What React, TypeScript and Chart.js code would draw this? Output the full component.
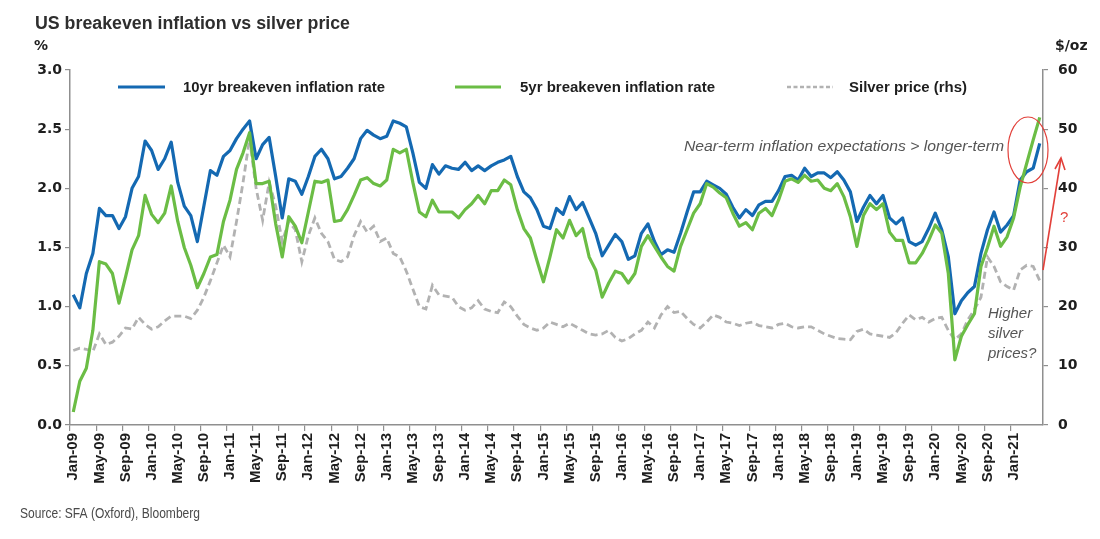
import React, { useEffect, useRef } from "react";
import { Chart, registerables } from "chart.js";

Chart.register(...registerables);

// ---------- data ----------
const MONTH_NAMES = ["Jan", "Feb", "Mar", "Apr", "May", "Jun", "Jul", "Aug", "Sep", "Oct", "Nov", "Dec"];
const START_YEAR = 2009;
const MONTH_COUNT = 149; // Jan-09 .. May-21
const categories: string[] = Array.from({ length: MONTH_COUNT }, (_, i) => {
  const y = (START_YEAR + Math.floor(i / 12)) % 100;
  return `${MONTH_NAMES[i % 12]}-${String(y).padStart(2, "0")}`;
});
const LAST_TICK_LABEL = "Jan-21";

const breakeven10y = [
  1.10, 0.99, 1.28, 1.45, 1.83, 1.77, 1.77, 1.66, 1.76, 2.00,
  2.10, 2.40, 2.32, 2.16, 2.25, 2.39, 2.05, 1.85, 1.77, 1.55,
  1.85, 2.15, 2.11, 2.27, 2.32, 2.42, 2.50, 2.57, 2.25, 2.37,
  2.43, 2.10, 1.75, 2.08, 2.06, 1.95, 2.10, 2.27, 2.33, 2.25,
  2.08, 2.10, 2.17, 2.25, 2.42, 2.49, 2.45, 2.42, 2.44, 2.57,
  2.55, 2.52, 2.30, 2.05, 2.00, 2.20, 2.12, 2.19, 2.17, 2.16,
  2.22, 2.15, 2.19, 2.15, 2.19, 2.22, 2.24, 2.27, 2.10, 1.97,
  1.92, 1.82, 1.68, 1.66, 1.83, 1.78, 1.93, 1.82, 1.88, 1.75,
  1.62, 1.43, 1.52, 1.61, 1.55, 1.40, 1.43, 1.62, 1.70, 1.55,
  1.44, 1.48, 1.46, 1.62, 1.80, 1.97, 1.97, 2.06, 2.03, 2.00,
  1.95, 1.84, 1.75, 1.82, 1.77, 1.86, 1.89, 1.89, 1.98, 2.10,
  2.11, 2.07, 2.17, 2.10, 2.13, 2.13, 2.09, 2.14, 2.07, 1.97,
  1.72, 1.84, 1.94, 1.87, 1.94, 1.75, 1.70, 1.75, 1.55, 1.52,
  1.55, 1.66, 1.79, 1.65, 1.42, 0.94, 1.05, 1.12, 1.17, 1.45,
  1.65, 1.80, 1.63, 1.69, 1.77, 2.07, 2.14, 2.17, 2.38,
];

const breakeven5y = [
  0.11, 0.37, 0.48, 0.80, 1.38, 1.36, 1.28, 1.03, 1.25, 1.48,
  1.60, 1.94, 1.78, 1.71, 1.79, 2.02, 1.72, 1.50, 1.35, 1.16,
  1.28, 1.42, 1.44, 1.72, 1.90, 2.16, 2.30, 2.47, 2.04, 2.04,
  2.06, 1.70, 1.42, 1.76, 1.68, 1.54, 1.80, 2.06, 2.05, 2.07,
  1.72, 1.73, 1.82, 1.94, 2.07, 2.09, 2.04, 2.02, 2.07, 2.33,
  2.30, 2.33, 2.05, 1.80, 1.76, 1.90, 1.80, 1.80, 1.80, 1.75,
  1.82, 1.87, 1.94, 1.87, 1.98, 1.98, 2.07, 2.03, 1.82, 1.66,
  1.58, 1.39, 1.21, 1.42, 1.65, 1.58, 1.73, 1.60, 1.66, 1.42,
  1.31, 1.08, 1.20, 1.30, 1.28, 1.20, 1.28, 1.51, 1.60, 1.51,
  1.42, 1.34, 1.30, 1.51, 1.65, 1.79, 1.87, 2.04, 2.01, 1.96,
  1.92, 1.79, 1.68, 1.71, 1.65, 1.79, 1.83, 1.77, 1.90, 2.06,
  2.08, 2.05, 2.11, 2.06, 2.07, 2.00, 1.98, 2.04, 1.93, 1.76,
  1.51, 1.77, 1.87, 1.82, 1.87, 1.63, 1.56, 1.56, 1.37, 1.37,
  1.45, 1.56, 1.69, 1.62, 1.28, 0.55, 0.75, 0.85, 0.94, 1.34,
  1.50, 1.68, 1.51, 1.59, 1.75, 2.01, 2.21, 2.41, 2.60,
];

const silverPrice = [
  12.6, 13.0, 12.8, 12.4, 15.4, 13.6, 14.0, 15.0, 16.4, 16.2,
  18.2, 17.0, 16.2, 16.6, 17.6, 18.4, 18.4, 18.4, 18.0, 19.4,
  21.6, 24.4, 27.4, 30.4, 28.4, 34.4, 41.0, 48.4, 40.0, 34.6,
  41.0, 37.0, 31.0, 34.4, 33.0, 27.6, 32.0, 35.0, 32.4, 31.0,
  28.0, 27.6, 28.4, 32.0, 34.4, 32.6, 33.6, 31.0, 31.6, 29.0,
  28.4, 26.0, 23.0, 20.0, 19.6, 23.6, 22.0, 21.8, 21.6, 20.0,
  19.4, 19.8, 21.0, 19.6, 19.2, 19.0, 20.8, 20.0, 18.4, 17.0,
  16.4, 16.0, 16.4, 17.4, 17.0, 16.6, 17.2, 16.6, 16.0, 15.4,
  15.2, 15.4, 16.0, 14.8, 14.2, 14.6, 15.4, 16.0, 17.4, 16.4,
  18.6, 20.0, 19.0, 19.2, 18.0, 17.0, 16.4, 17.4, 18.6, 18.2,
  17.4, 17.2, 16.8, 17.2, 17.4, 16.8, 16.6, 16.4, 17.0, 17.2,
  16.6, 16.4, 16.6, 16.6, 16.0, 15.4, 15.0, 14.6, 14.5, 14.4,
  15.8, 16.2, 15.4, 15.2, 15.0, 14.8, 15.6, 17.2, 18.6, 17.8,
  18.2, 17.4, 18.0, 18.2, 16.0, 14.4, 15.4, 17.8, 19.5, 21.6,
  28.4, 26.8, 24.2, 23.4, 22.8, 26.2, 27.0, 26.8, 24.4,
];

const LABEL_EVERY = 4; // Jan, May, Sep
const LEFT_AXIS = { min: 0, max: 3, step: 0.5 };
const RIGHT_AXIS = { min: 0, max: 60, step: 10 };

const SERIES_NAMES = ["10yr breakeven inflation rate", "5yr breakeven inflation rate", "Silver price (rhs)"];
const TITLE = "US breakeven inflation vs silver price";
const SOURCE = "Source: SFA (Oxford), Bloomberg";
const NOTE_TOP = "Near-term inflation expectations > longer-term";
const NOTE_SILVER = ["Higher", "silver", "prices?"];

// ---------- styles ----------
const BLUE = "#1469b2";
const GREEN = "#6bbd45";
const GREY = "#b2b2b2";
const AXIS = "#8f8f8f";
const TEXT = "#1e1e1e";
const NOTE = "#555555";
const RED = "#e2403a";

const lastLabelIndex = categories.indexOf(LAST_TICK_LABEL);
const showLabel = (i: number) => i % LABEL_EVERY === 0 && i <= lastLabelIndex;

function fitText(ctx: CanvasRenderingContext2D, text: string, x: number, y: number, width: number) {
  const w = ctx.measureText(text).width;
  const s = width / w;
  ctx.save();
  ctx.translate(x, y);
  ctx.scale(s, 1);
  ctx.fillText(text, 0, 0);
  ctx.restore();
}

const overlayPlugin = {
  id: "overlay",
  afterDraw(chart: any) {
    const ctx: CanvasRenderingContext2D = chart.ctx;
    ctx.save();
    ctx.textBaseline = "alphabetic";
    ctx.textAlign = "left";

    // title
    ctx.fillStyle = "#2e2e2e";
    ctx.font = "bold 18px 'Liberation Sans', Arial, sans-serif";
    fitText(ctx, TITLE, 35, 29, 315);

    // axis units
    ctx.fillStyle = TEXT;
    ctx.font = "bold 14px 'DejaVu Sans', sans-serif";
    ctx.fillText("%", 34, 50);
    ctx.fillText("$/oz", 1055, 50);

    // legend
    const legendY = 87;
    const items = [
      { x0: 118, x1: 165, tx: 183, tw: 202, color: BLUE, dash: [] as number[], lw: 3 },
      { x0: 455, x1: 501, tx: 520, tw: 195, color: GREEN, dash: [] as number[], lw: 3 },
      { x0: 787, x1: 833, tx: 849, tw: 118, color: GREY, dash: [4, 2.5], lw: 2.5 },
    ];
    items.forEach((it, i) => {
      ctx.save();
      ctx.strokeStyle = it.color;
      ctx.lineWidth = it.lw;
      ctx.setLineDash(it.dash);
      ctx.beginPath();
      ctx.moveTo(it.x0, legendY);
      ctx.lineTo(it.x1, legendY);
      ctx.stroke();
      ctx.restore();
      ctx.fillStyle = TEXT;
      ctx.font = "bold 15px 'Liberation Sans', Arial, sans-serif";
      fitText(ctx, SERIES_NAMES[i], it.tx, legendY + 5, it.tw);
    });

    // annotations
    ctx.fillStyle = NOTE;
    ctx.font = "italic 15px 'Liberation Sans', Arial, sans-serif";
    fitText(ctx, NOTE_TOP, 684, 151, 320);
    NOTE_SILVER.forEach((t, i) => ctx.fillText(t, 988, 318 + i * 20));

    // red ellipse
    ctx.strokeStyle = RED;
    ctx.lineWidth = 1.2;
    ctx.beginPath();
    ctx.ellipse(1028, 150, 20, 33, 0, 0, Math.PI * 2);
    ctx.stroke();

    // red arrow
    ctx.lineWidth = 1.6;
    ctx.beginPath();
    ctx.moveTo(1043, 270);
    ctx.lineTo(1061, 158);
    ctx.stroke();
    ctx.beginPath();
    ctx.moveTo(1055, 169);
    ctx.lineTo(1061, 158);
    ctx.lineTo(1065, 170);
    ctx.stroke();
    ctx.fillStyle = RED;
    ctx.font = "15px 'Liberation Sans', Arial, sans-serif";
    ctx.fillText("?", 1060, 222);

    // source
    ctx.fillStyle = "#4a4a4a";
    ctx.font = "14px 'Liberation Sans', Arial, sans-serif";
    fitText(ctx, SOURCE, 20, 518, 180);

    ctx.restore();
  },
};

export default function App() {
  const canvasRef = useRef<HTMLCanvasElement | null>(null);

  useEffect(() => {
    if (!canvasRef.current) return;
    const tickFont = { family: "'DejaVu Sans', sans-serif", size: 14, weight: "bold" as const };
    const chart = new Chart(canvasRef.current, {
      type: "line",
      data: {
        labels: categories,
        datasets: [
          {
            label: SERIES_NAMES[0],
            data: breakeven10y,
            yAxisID: "y",
            borderColor: BLUE,
            borderWidth: 3.2,
            pointRadius: 0,
            tension: 0,
            borderJoinStyle: "round",
            order: 2,
          },
          {
            label: SERIES_NAMES[1],
            data: breakeven5y,
            yAxisID: "y",
            borderColor: GREEN,
            borderWidth: 3.2,
            pointRadius: 0,
            tension: 0,
            borderJoinStyle: "round",
            order: 1,
          },
          {
            label: SERIES_NAMES[2],
            data: silverPrice,
            yAxisID: "y1",
            borderColor: GREY,
            borderWidth: 2.8,
            borderDash: [7, 4],
            pointRadius: 0,
            tension: 0,
            order: 3,
          },
        ],
      },
      options: {
        animation: false,
        responsive: false,
        devicePixelRatio: 1,
        layout: { padding: { top: 70, left: 0, right: 0, bottom: 0 } },
        plugins: { legend: { display: false }, tooltip: { enabled: false }, title: { display: false } },
        scales: {
          x: {
            type: "category",
            offset: true,
            grid: {
              offset: true,
              drawOnChartArea: false,
              drawTicks: true,
              tickLength: 6,
              lineWidth: 1.2,
              color: (c: any) => (showLabel(c.index) ? AXIS : "rgba(0,0,0,0)"),
            },
            border: { display: true, color: AXIS, width: 1.5 },
            ticks: {
              autoSkip: false,
              minRotation: 90,
              maxRotation: 90,
              padding: 2,
              color: TEXT,
              font: { family: "'Liberation Sans', Arial, sans-serif", size: 15, weight: "bold" },
              callback: (_v: any, i: number) => (showLabel(i) ? categories[i] : ""),
            },
            afterFit: (s: any) => {
              s.height = 114;
            },
          },
          y: {
            position: "left",
            min: LEFT_AXIS.min,
            max: LEFT_AXIS.max,
            grid: { drawOnChartArea: false, tickLength: 5, color: AXIS, lineWidth: 1.2 },
            border: { display: true, color: AXIS, width: 1.5 },
            ticks: {
              stepSize: LEFT_AXIS.step,
              padding: 3,
              color: TEXT,
              font: tickFont,
              callback: (v: any) => Number(v).toFixed(1),
            },
            afterFit: (s: any) => {
              s.width = 70;
            },
          },
          y1: {
            position: "right",
            min: RIGHT_AXIS.min,
            max: RIGHT_AXIS.max,
            grid: { drawOnChartArea: false, tickLength: 5, color: AXIS, lineWidth: 1.2 },
            border: { display: true, color: AXIS, width: 1.5 },
            ticks: {
              stepSize: RIGHT_AXIS.step,
              padding: 10,
              color: TEXT,
              font: tickFont,
            },
            afterFit: (s: any) => {
              s.width = 57;
            },
          },
        },
      },
      plugins: [overlayPlugin],
    });
    return () => chart.destroy();
  }, []);

  return (
    <div style={{ position: "absolute", left: 0, top: 0, width: 1100, height: 539, background: "#ffffff" }}>
      <canvas ref={canvasRef} width={1100} height={539} style={{ display: "block" }} />
    </div>
  );
}
